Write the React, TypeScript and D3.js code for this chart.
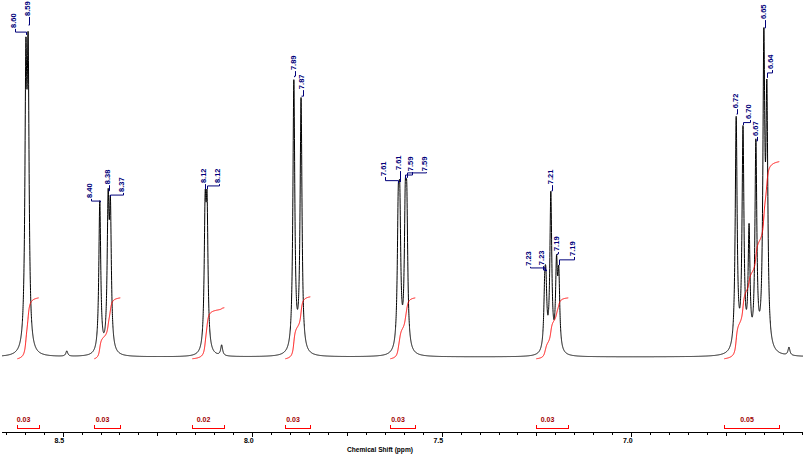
import React from "react";
import * as d3 from "d3";

// ---- Spectrum peaks (chemical shift in ppm, intensity in % of full scale) ----
const PEAK_PPM = [
  8.597, 8.591, 8.489,
  8.402, 8.38, 8.374,
  8.124, 8.119, 8.0805,
  7.89, 7.871,
  7.6145, 7.6105, 7.596, 7.592,
  7.228, 7.225, 7.212, 7.197, 7.191,
  6.723, 6.705, 6.689, 6.671, 6.65, 6.642, 6.5837,
];
const PEAK_HEIGHT = [
  75, 77, 1.5,
  43.2, 39.4, 37.3,
  37.2, 37.2, 3,
  77, 71.8,
  34.5, 34.5, 35, 35,
  15, 15, 44.5, 23, 20.2,
  66, 62, 33, 58, 83.6, 67.5, 2.3,
];
const LINE_HALF_WIDTH = 0.003; // ppm

// ---- Peak labels ----
const LABEL_TEXT = [
  "8.60", "8.59", "8.40", "8.38", "8.37", "8.12", "8.12", "7.89", "7.87",
  "7.61", "7.61", "7.59", "7.59", "7.23", "7.23", "7.21", "7.19", "7.19",
  "6.72", "6.70", "6.67", "6.65", "6.64",
];
const LABEL_PEAK = [
  8.597, 8.591, 8.402, 8.38, 8.374, 8.124, 8.119, 7.89, 7.871,
  7.6145, 7.6105, 7.596, 7.592, 7.228, 7.225, 7.212, 7.197, 7.191,
  6.723, 6.705, 6.671, 6.65, 6.642,
];
const LABEL_ANCHOR = [
  8.6249, 8.588, 8.4252, 8.3777, 8.3408, 8.1244, 8.0862, 7.887, 7.8659,
  7.6495, 7.61, 7.5784, 7.5415, 7.267, 7.2327, 7.2089, 7.1944, 7.1509,
  6.7209, 6.6866, 6.6681, 6.647, 6.6285,
];
const LABEL_LEVEL = [
  93.5, 96.9, 45.2, 49.1, 46.9, 49.4, 49.4, 81.5, 76.1,
  51.4, 53.1, 52.8, 52.8, 25.9, 26.1, 49.1, 30.1, 28.7,
  70.7, 67.6, 62.8, 96.0, 81.8,
];
const LABEL_JOG = [
  92.3, 94.3, 44.3, 47.2, 46.0, 48.3, 48.6, 79.8, 74.1,
  50.1, 49.7, 51.7, 52.3, 25.3, 24.7, 47.2, 29.3, 27.6,
  69.0, 66.6, 61.4, 93.5, 80.7,
];
const LABEL_END = [
  91.5, 94.3, 44.0, 47.2, 45.5, 47.7, 47.7, 79.5, 74.1,
  49.4, 49.7, 50.6, 50.9, 24.4, 24.4, 47.2, 29.0, 26.1,
  69.0, 65.9, 61.4, 93.5, 79.3,
];

// ---- Integrals ----
const INT_FROM = [8.6196, 8.4165, 8.1579, 7.9126, 7.6355, 7.2504, 6.7544];
const INT_TO = [8.5632, 8.3479, 8.0735, 7.8466, 7.5696, 7.166, 6.6093];
const INT_VALUE = ["0.03", "0.03", "0.02", "0.03", "0.03", "0.03", "0.05"];
const INT_RISE = [17.3, 17.3, 14.5, 17.6, 17.3, 17.3, 56];
const INT_BASE = -0.5;

// ---- Axis ----
const PPM_LEFT = 8.66;
const PPM_RIGHT = 6.5467;
const AXIS_TITLE = "Chemical Shift (ppm)";

const FONT = "'Liberation Sans', Arial, sans-serif";
const NAVY = "#00007a";
const RED = "#ff0000";

function spectrum(p: number): number {
  const g2 = LINE_HALF_WIDTH * LINE_HALF_WIDTH;
  let s = 0;
  for (let i = 0; i < PEAK_PPM.length; i++) {
    const d = p - PEAK_PPM[i];
    s += (PEAK_HEIGHT[i] * g2) / (d * d + g2);
  }
  return s;
}

export default function App() {
  const W = 803;
  const H = 454;
  const x = d3.scaleLinear().domain([PPM_LEFT, PPM_RIGHT]).range([2, 803]);
  const y = d3.scaleLinear().domain([0, 100]).range([357, 5]);

  const step = 0.0002;
  const pts: [number, number][] = d3
    .range(PPM_LEFT, PPM_RIGHT - step, -step)
    .map((p) => [p, spectrum(p)]);
  const line = d3
    .line<[number, number]>()
    .x((d) => x(d[0]))
    .y((d) => y(d[1]));
  const specPath = line(pts) || "";

  const integralPaths = INT_FROM.map((from, i) => {
    const to = INT_TO[i];
    const ps = d3.range(from, to - step / 2, -step);
    const vals = ps.map(spectrum);
    const cum: number[] = [0];
    for (let k = 1; k < vals.length; k++) cum.push(cum[k - 1] + (vals[k - 1] + vals[k]) / 2);
    const total = cum[cum.length - 1] || 1;
    const ip: [number, number][] = ps.map((p, k) => [p, INT_BASE + (INT_RISE[i] * cum[k]) / total]);
    return line(ip) || "";
  });

  const axisY = 432.5;
  const ticks = d3.range(131, 174).map((k) => {
    const p = k * 0.05;
    const major = k % 10 === 0;
    const medium = k % 5 === 0;
    return { p, major, medium };
  });

  return (
    <div style={{ position: "absolute", left: 0, top: 0, width: W, height: H, background: "#fff" }}>
      <svg width={W} height={H} viewBox={`0 0 ${W} ${H}`} style={{ display: "block" }}>
        <rect x={0} y={0} width={W} height={H} fill="#fff" />
        {/* spectrum */}
        <path d={specPath} fill="none" stroke="#000" strokeWidth={1} />
        {/* integral curves */}
        {integralPaths.map((d, i) => (
          <path key={"ic" + i} d={d} fill="none" stroke={RED} strokeWidth={1} />
        ))}
        {/* peak labels */}
        {LABEL_TEXT.map((t, i) => {
          const ax = Math.round(x(LABEL_ANCHOR[i])) + 0.5;
          const ly = y(LABEL_LEVEL[i]);
          const jy = y(LABEL_JOG[i]);
          const ey = y(LABEL_END[i]);
          const px = Math.round(x(LABEL_PEAK[i])) + 0.5;
          return (
            <g key={"lb" + i}>
              <path
                d={`M${ax},${ly + 1} V${jy} H${px} V${ey}`}
                fill="none"
                stroke={NAVY}
                strokeWidth={1}
              />
              <text
                transform={`translate(${ax},${ly}) rotate(-90)`}
                fontFamily={FONT}
                fontWeight="bold"
                fontSize={7.5}
                fill={NAVY}
                textAnchor="start"
              >
                {t}
              </text>
            </g>
          );
        })}
        {/* integration bars */}
        {INT_FROM.map((from, i) => {
          const x0 = Math.round(x(from)) + 0.5;
          const x1 = Math.round(x(INT_TO[i])) + 0.5;
          const cx = (x0 + x1) / 2 - 5;
          return (
            <g key={"ib" + i}>
              <path
                d={`M${x0},425 V429 M${x0},428.5 H${x1} M${x1},425 V429`}
                fill="none"
                stroke={RED}
                strokeWidth={1}
                shapeRendering="crispEdges"
              />
              <text
                x={cx}
                y={422}
                textAnchor="middle"
                fontFamily={FONT}
                fontWeight="bold"
                fontSize={7}
                fill="#a00000"
              >
                {INT_VALUE[i]}
              </text>
            </g>
          );
        })}
        {/* axis */}
        <line x1={2} x2={803} y1={axisY} y2={axisY} stroke="#000" strokeWidth={1} shapeRendering="crispEdges" />
        {ticks.map((t, i) => {
          const tx = Math.round(x(t.p)) + 0.5;
          const len = t.major ? 4 : t.medium ? 3 : 2;
          return (
            <line
              key={"tk" + i}
              x1={tx}
              x2={tx}
              y1={axisY}
              y2={axisY + len}
              stroke="#000"
              strokeWidth={1}
              shapeRendering="crispEdges"
            />
          );
        })}
        {ticks
          .filter((t) => t.major)
          .map((t, i) => (
            <text
              key={"tl" + i}
              x={x(t.p) + 1.5}
              y={443}
              textAnchor="end"
              fontFamily={FONT}
              fontWeight="bold"
              fontSize={7}
              fill="#000"
            >
              {t.p.toFixed(1)}
            </text>
          ))}
        <text x={380} y={452} textAnchor="middle" fontFamily={FONT} fontWeight="bold" fontSize={6.6} fill="#000">
          {AXIS_TITLE}
        </text>
      </svg>
    </div>
  );
}
